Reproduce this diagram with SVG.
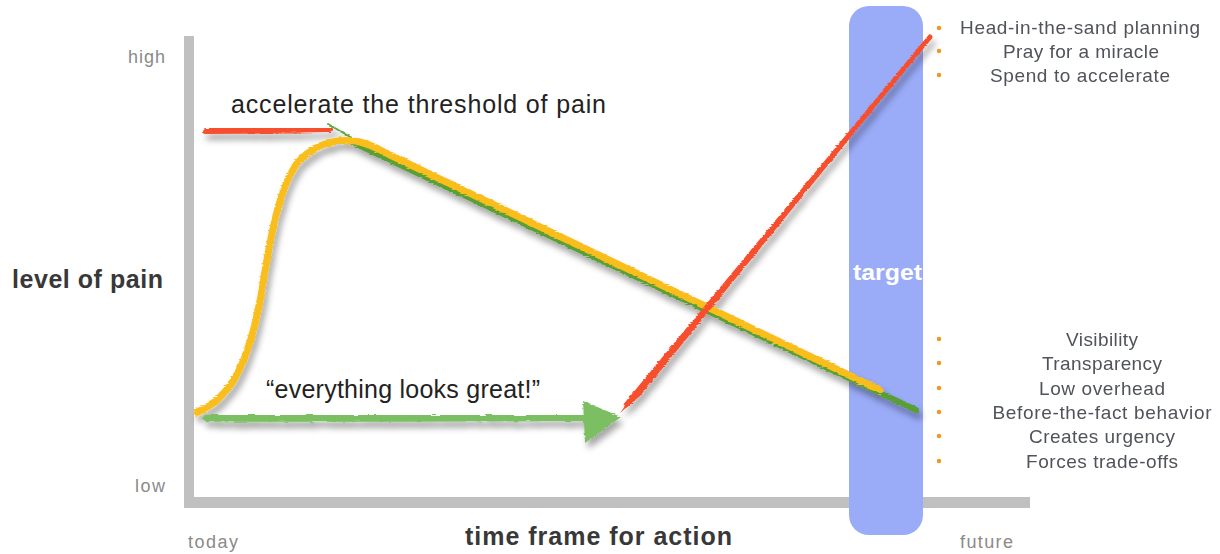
<svg xmlns="http://www.w3.org/2000/svg" width="1220" height="554" viewBox="0 0 1220 554">
  <defs>
    <filter id="shadow" x="-10%" y="-10%" width="130%" height="140%">
      <feDropShadow dx="3" dy="6" stdDeviation="3" flood-color="#000" flood-opacity="0.35"/>
    </filter>
    <filter id="rough" x="-5%" y="-5%" width="110%" height="120%">
      <feTurbulence type="fractalNoise" baseFrequency="0.08 0.9" numOctaves="2" seed="3" result="n"/>
      <feDisplacementMap in="SourceGraphic" in2="n" scale="3" xChannelSelector="R" yChannelSelector="G"/>
    </filter>
    <style>
      .axis { fill: #c0c0c0; }
      .tick { font-family: "Liberation Sans", Arial, sans-serif; font-size: 18px; fill: #8a8a8a; }
      .title { font-family: "Liberation Sans", Arial, sans-serif; font-size: 25px; font-weight: bold; fill: #383838; }
      .note { font-family: "Liberation Sans", Arial, sans-serif; font-size: 25px; fill: #222; }
      .item { font-family: "Liberation Sans", Arial, sans-serif; font-size: 19px; fill: #50535a; text-anchor: middle; }
      .dot { fill: #f7931e; }
      .brush { fill: none; stroke-linecap: round; stroke-linejoin: round; }
    </style>
  </defs>
  <rect width="1220" height="554" fill="#fff"/>

  <!-- axes -->
  <g id="axes">
    <rect class="axis" x="184" y="36" width="10" height="472"/>
    <rect class="axis" x="184" y="497" width="846" height="11"/>
  </g>

  <!-- target band -->
  <g id="target">
    <rect x="849" y="6" width="74" height="529" rx="20" fill="#9aabf8"/>
    <text x="853" y="280" textLength="69" lengthAdjust="spacingAndGlyphs" font-family="Liberation Sans, Arial, sans-serif" font-size="22" font-weight="bold" fill="#fff">target</text>
  </g>

  <!-- axis labels -->
  <g id="labels">
    <text class="tick" x="128" y="63" textLength="37">high</text>
    <text class="tick" x="135" y="492" textLength="30">low</text>
    <text class="tick" x="188" y="548" textLength="50">today</text>
    <text class="tick" x="960" y="548" textLength="53">future</text>
    <text class="title" x="12" y="288" textLength="151">level of pain</text>
    <text class="title" x="465" y="545" textLength="267">time frame for action</text>
    <text class="note" x="231" y="113" textLength="375">accelerate the threshold of pain</text>
    <text class="note" x="266" y="398" textLength="274">“everything looks great!”</text>
  </g>

  <!-- connectors: brush strokes -->
  <g id="connectors" filter="url(#shadow)">
    <!-- short red stroke, top left -->
    <g filter="url(#rough)">
      <path class="brush" d="M206,131 L330,129" stroke="#f7502f" stroke-width="6"/>
      <path class="brush" d="M204,133 L300,133" stroke="#f7502f" stroke-width="2" opacity="0.6"/>
    </g>
    <!-- green descending line -->
    <g filter="url(#rough)">
      <path class="brush" d="M328,124 L352,138" stroke="#5fa83e" stroke-width="2"/>
      <path class="brush" d="M352,142 L916,410" stroke="#5a9e38" stroke-width="6"/>
      <path class="brush" d="M870,390 L918,412" stroke="#5a9e38" stroke-width="2"/>
    </g>
    <!-- yellow curve -->
    <g filter="url(#rough)">
      <path class="brush" d="M197,412 C232,398 250,360 262,290 C272,225 282,180 300,160 C318,142 340,138 360,142 C372,145 378,149 388,154 L880,390" stroke="#f9bd1b" stroke-width="7"/>
      <path class="brush" d="M196,416 C226,404 243,378 254,336" stroke="#f9bd1b" stroke-width="2" opacity="0.7"/>
    </g>
    <!-- green horizontal arrow -->
    <g filter="url(#rough)">
      <path class="brush" d="M206,418 L588,418" stroke="#7bbf63" stroke-width="6"/>
      <path class="brush" d="M215,421 L540,420" stroke="#7bbf63" stroke-width="3" opacity="0.8"/>
      <path d="M583,401 L621,417 L585,443 Z" fill="#7bbf63"/>
    </g>
    <!-- red rising line -->
    <g filter="url(#rough)">
      <path d="M620,413 L636,391 L928,37 L932,36 L925,46 L640,396 Z" fill="#f7502f"/>
      <path class="brush" d="M626,405 L930,37" stroke="#f7502f" stroke-width="5"/>
    </g>
  </g>

  <!-- right-hand lists -->
  <g id="list-top">
    <circle class="dot" cx="939" cy="28" r="2.2"/>
    <circle class="dot" cx="939" cy="51" r="2.2"/>
    <circle class="dot" cx="939" cy="75" r="2.2"/>
    <text class="item" x="1080" y="34" textLength="240">Head-in-the-sand planning</text>
    <text class="item" x="1081" y="58" textLength="156">Pray for a miracle</text>
    <text class="item" x="1080" y="82" textLength="180">Spend to accelerate</text>
  </g>
  <g id="list-bottom">
    <circle class="dot" cx="939" cy="339" r="2.2"/>
    <circle class="dot" cx="939" cy="363" r="2.2"/>
    <circle class="dot" cx="939" cy="388" r="2.2"/>
    <circle class="dot" cx="939" cy="412" r="2.2"/>
    <circle class="dot" cx="939" cy="436" r="2.2"/>
    <circle class="dot" cx="939" cy="461" r="2.2"/>
    <text class="item" x="1102" y="346" textLength="72">Visibility</text>
    <text class="item" x="1102" y="370" textLength="120">Transparency</text>
    <text class="item" x="1102" y="395" textLength="126">Low overhead</text>
    <text class="item" x="1102" y="419" textLength="219">Before-the-fact behavior</text>
    <text class="item" x="1102" y="443" textLength="146">Creates urgency</text>
    <text class="item" x="1102" y="468" textLength="152">Forces trade-offs</text>
  </g>
</svg>
